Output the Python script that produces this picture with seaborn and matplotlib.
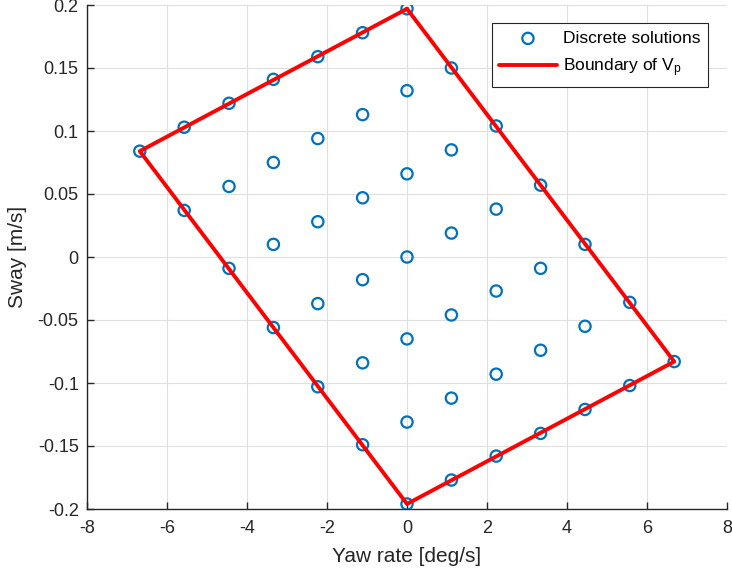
import matplotlib
matplotlib.use("Agg")
import matplotlib.pyplot as plt
import seaborn as sns
import pandas as pd

# Discrete solutions (yaw rate in deg/s, sway in m/s), listed column by column
yaw = [
    -6.68,
    -5.57, -5.57,
    -4.45, -4.45, -4.45,
    -3.34, -3.34, -3.34, -3.34,
    -2.23, -2.23, -2.23, -2.23, -2.23,
    -1.11, -1.11, -1.11, -1.11, -1.11, -1.11,
    0.0, 0.0, 0.0, 0.0, 0.0, 0.0, 0.0,
    1.11, 1.11, 1.11, 1.11, 1.11, 1.11,
    2.23, 2.23, 2.23, 2.23, 2.23,
    3.34, 3.34, 3.34, 3.34,
    4.45, 4.45, 4.45,
    5.57, 5.57,
    6.68,
]
sway = [
    0.084,
    0.103, 0.037,
    0.122, 0.056, -0.009,
    0.141, 0.075, 0.010, -0.056,
    0.159, 0.094, 0.028, -0.037, -0.103,
    0.178, 0.113, 0.047, -0.018, -0.084, -0.149,
    0.197, 0.132, 0.066, 0.000, -0.065, -0.131, -0.196,
    0.150, 0.085, 0.019, -0.046, -0.112, -0.177,
    0.104, 0.038, -0.027, -0.093, -0.158,
    0.057, -0.009, -0.074, -0.140,
    0.010, -0.055, -0.121,
    -0.036, -0.102,
    -0.083,
]

# Corners of the feasible set V_p (closed polygon)
boundary_yaw = [0.0, 6.68, 0.0, -6.68, 0.0]
boundary_sway = [0.197, -0.083, -0.196, 0.084, 0.197]

xticks = [-8, -6, -4, -2, 0, 2, 4, 6, 8]
yticks = [-0.2, -0.15, -0.1, -0.05, 0, 0.05, 0.1, 0.15, 0.2]
ytick_labels = ["-0.2", "-0.15", "-0.1", "-0.05", "0", "0.05", "0.1", "0.15", "0.2"]

sns.set_theme(style="white")
plt.rcParams["font.family"] = ["Liberation Sans", "DejaVu Sans"]
plt.rcParams["axes.unicode_minus"] = False
plt.rcParams["mathtext.fontset"] = "custom"
plt.rcParams["mathtext.rm"] = "Liberation Sans"
plt.rcParams["mathtext.it"] = "Liberation Sans"

text_color = "#262626"
fig = plt.figure(figsize=(7.32, 5.76), dpi=100)
ax = fig.add_axes([87 / 732, 1 - 509 / 576, 640 / 732, 504 / 576])

pts = pd.DataFrame({"yaw": yaw, "sway": sway})
bnd = pd.DataFrame({"yaw": boundary_yaw, "sway": boundary_sway})

sns.scatterplot(data=pts, x="yaw", y="sway", ax=ax, marker="o", s=66,
                facecolors="none", edgecolor="#0072BD", linewidth=1.6,
                label="Discrete solutions", zorder=3)
sns.lineplot(data=bnd, x="yaw", y="sway", ax=ax, sort=False, estimator=None,
             color="#FF0000", linewidth=2.8, label="Boundary of V$_\\mathregular{p}$",
             zorder=4)

ax.set_xlim(-8, 8)
ax.set_ylim(-0.2, 0.2)
ax.set_xticks(xticks)
ax.set_xticklabels([str(t) for t in xticks])
ax.set_yticks(yticks)
ax.set_yticklabels(ytick_labels)

ax.grid(True, color="#DFDFDF", linewidth=0.8)
ax.set_axisbelow(True)
for side in ["top", "right"]:
    ax.spines[side].set_visible(False)
for side in ["left", "bottom"]:
    ax.spines[side].set_color(text_color)
    ax.spines[side].set_linewidth(1.0)
ax.tick_params(direction="in", length=5, width=1.0, colors=text_color,
               labelsize=13, left=True, bottom=True, top=False, right=False)
ax.tick_params(axis="x", pad=8)
ax.tick_params(axis="y", pad=6)

ax.set_xlabel("Yaw rate [deg/s]", fontsize=15, color=text_color, labelpad=7)
ax.set_ylabel("Sway [m/s]", fontsize=15, color=text_color, labelpad=8)

leg = ax.legend(loc="upper right", bbox_to_anchor=(708 / 732, 1 - 23 / 576),
                bbox_transform=fig.transFigure, borderaxespad=0,
                fontsize=12.5, frameon=True, fancybox=False, framealpha=1,
                edgecolor=text_color, borderpad=0.45, handlelength=3.3,
                handletextpad=0.35, labelspacing=0.6)
leg.get_frame().set_linewidth(0.8)
for t in leg.get_texts():
    t.set_color("black")

fig.savefig("out.png", dpi=100)
